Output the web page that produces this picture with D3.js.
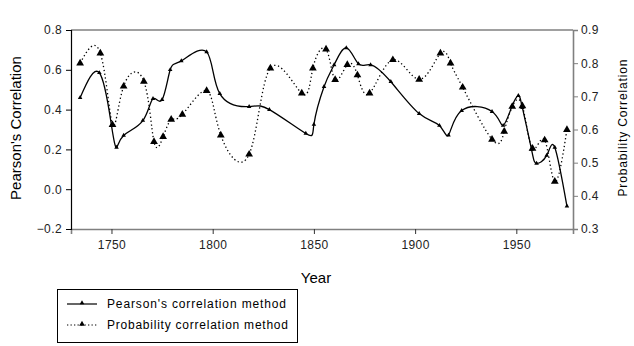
<!DOCTYPE html>
<html>
<head>
<meta charset="utf-8">
<script src="https://cdn.jsdelivr.net/npm/d3@7"></script>
<style>
  body { margin: 0; background: #fff; }
  svg { font-family: "Liberation Sans", Arial, sans-serif; }
  .tick text { font-size: 12px; fill: #222; letter-spacing: 0.4px; }
</style>
</head>
<body>
<svg id="chart" width="634" height="346"></svg>
<script>
// values
const pearsonYears  = [1734.5, 1744, 1750, 1752.5, 1756, 1765.5, 1770.5, 1775, 1779, 1784.5, 1797, 1803.5, 1818, 1828,
                       1846, 1850, 1855, 1860, 1866, 1872, 1878, 1888, 1902, 1912, 1916.5, 1923, 1938, 1943.5,
                       1948, 1951, 1953, 1957.5, 1960, 1965, 1969, 1975]
const pearsonValues = [0.46, 0.585, 0.32, 0.21, 0.27, 0.345, 0.455, 0.45, 0.60, 0.645, 0.69, 0.48, 0.415, 0.40,
                       0.28, 0.325, 0.515, 0.625, 0.71, 0.63, 0.625, 0.54, 0.38, 0.32, 0.272, 0.395, 0.39, 0.32,
                       0.42, 0.47, 0.41, 0.20, 0.13, 0.17, 0.21, -0.085]

const probYears  = [1734.5, 1744.5, 1750.5, 1756, 1766, 1771, 1775.5, 1779.5, 1785, 1797, 1804, 1818, 1828.5,
                    1844, 1849.5, 1856, 1860.5, 1866.5, 1871.5, 1877.5, 1889, 1902, 1912.5, 1917.5, 1923.5,
                    1938, 1944, 1948, 1953, 1958, 1964, 1969, 1975]
const probValues = [0.80, 0.83, 0.614, 0.73, 0.745, 0.563, 0.578, 0.63, 0.645, 0.717, 0.583, 0.525, 0.785,
                    0.709, 0.785, 0.842, 0.75, 0.795, 0.764, 0.709, 0.81, 0.751, 0.83, 0.80, 0.727,
                    0.57, 0.594, 0.669, 0.671, 0.543, 0.568, 0.443, 0.599]

const yearTicks  = [1750, 1800, 1850, 1900, 1950]
const leftTicks  = [-0.2, 0.0, 0.2, 0.4, 0.6, 0.8]
const rightTicks = [0.3, 0.4, 0.5, 0.6, 0.7, 0.8, 0.9]
const seriesNames = ["Pearson's correlation method", "Probability correlation method"]

const svg = d3.select("#chart")
const plot = {left: 71, right: 573, top: 30, bottom: 229}

let x = d3.scaleLinear()
          .domain([1730, 1978])
          .range([plot.left, plot.right])

let yL = d3.scaleLinear()
           .domain([-0.2, 0.8])
           .range([plot.bottom, plot.top])

let yR = d3.scaleLinear()
           .domain([0.3, 0.9])
           .range([plot.bottom, plot.top])

// frame: top edge in grey
svg.append("line")
   .attr("x1", plot.left).attr("x2", plot.right)
   .attr("y1", plot.top).attr("y2", plot.top)
   .attr("stroke", "#808080").attr("stroke-width", 1.6)

// axes
let gx = svg.append("g")
            .attr("transform", "translate(0," + plot.bottom + ")")
            .call(d3.axisBottom(x).tickValues(yearTicks).tickFormat(d3.format("d")).tickSize(5).tickPadding(6))
gx.select(".domain").attr("stroke", "#808080").attr("stroke-width", 1.6)
gx.selectAll(".tick line").attr("stroke", "#333")

let gl = svg.append("g")
            .attr("transform", "translate(" + plot.left + ",0)")
            .call(d3.axisLeft(yL).tickValues(leftTicks).tickFormat(d3.format(".1f")).tickSize(5).tickPadding(4))
gl.select(".domain").attr("stroke", "#000").attr("stroke-width", 1.2)

let gr = svg.append("g")
            .attr("transform", "translate(" + plot.right + ",0)")
            .call(d3.axisRight(yR).tickValues(rightTicks).tickFormat(d3.format(".1f")).tickSize(5).tickPadding(3))
gr.select(".domain").attr("stroke", "#808080").attr("stroke-width", 1.6)
gr.selectAll(".tick line").attr("stroke", "#808080")

// axis titles
svg.append("text")
   .attr("x", 316).attr("y", 283)
   .attr("text-anchor", "middle")
   .style("font-size", "15px")
   .text("Year")

svg.append("text")
   .attr("transform", "translate(21,128) rotate(-90)")
   .attr("text-anchor", "middle")
   .style("font-size", "15px")
   .text("Pearson's Correlation")

svg.append("text")
   .attr("transform", "translate(627,128) rotate(-90)")
   .attr("text-anchor", "middle")
   .style("font-size", "12px")
   .attr("textLength", 137)
   .text("Probability Correlation")

// series
const pearson = pearsonYears.map((d, i) => [d, pearsonValues[i]])
const prob = probYears.map((d, i) => [d, probValues[i]])

let lineL = d3.line()
              .x(d => x(d[0]))
              .y(d => yL(d[1]))
              .curve(d3.curveNatural)

let lineR = d3.line()
              .x(d => x(d[0]))
              .y(d => yR(d[1]))
              .curve(d3.curveNatural)

svg.append("path")
   .datum(prob)
   .attr("d", lineR)
   .attr("fill", "none")
   .attr("stroke", "#000")
   .attr("stroke-width", 1.3)
   .attr("stroke-dasharray", "1.3,2.6")

svg.append("path")
   .datum(pearson)
   .attr("d", lineL)
   .attr("fill", "none")
   .attr("stroke", "#000")
   .attr("stroke-width", 1.3)

const bigTri = d3.symbol().type(d3.symbolTriangle).size(26)
const smallTri = d3.symbol().type(d3.symbolTriangle).size(9)

svg.selectAll(".prob.pt")
   .data(prob)
   .join("path")
   .attr("class", "prob pt")
   .attr("d", bigTri)
   .attr("transform", d => "translate(" + x(d[0]) + "," + yR(d[1]) + ")")
   .attr("fill", "#000")

svg.selectAll(".pear.pt")
   .data(pearson)
   .join("path")
   .attr("class", "pear pt")
   .attr("d", smallTri)
   .attr("transform", d => "translate(" + x(d[0]) + "," + yL(d[1]) + ")")
   .attr("fill", "#000")

// legend
let legend = svg.append("g")
legend.append("rect")
      .attr("x", 57.5).attr("y", 289.5)
      .attr("width", 240).attr("height", 53)
      .attr("fill", "#fff").attr("stroke", "#000")

seriesNames.forEach((name, i) => {
  let ly = 304 + i * 21
  legend.append("line")
        .attr("x1", 67).attr("x2", 97)
        .attr("y1", ly).attr("y2", ly)
        .attr("stroke", "#000").attr("stroke-width", 1.2)
        .attr("stroke-dasharray", i == 0 ? null : "1.3,2.2")
  legend.append("path")
        .attr("d", i == 0 ? smallTri : d3.symbol().type(d3.symbolTriangle).size(14))
        .attr("transform", "translate(82," + (ly - 1) + ")")
  legend.append("text")
        .attr("x", 107).attr("y", ly + 4)
        .style("font-size", "12px")
        .attr("textLength", i == 0 ? 179 : 181)
        .text(name)
})
</script>
</body>
</html>
